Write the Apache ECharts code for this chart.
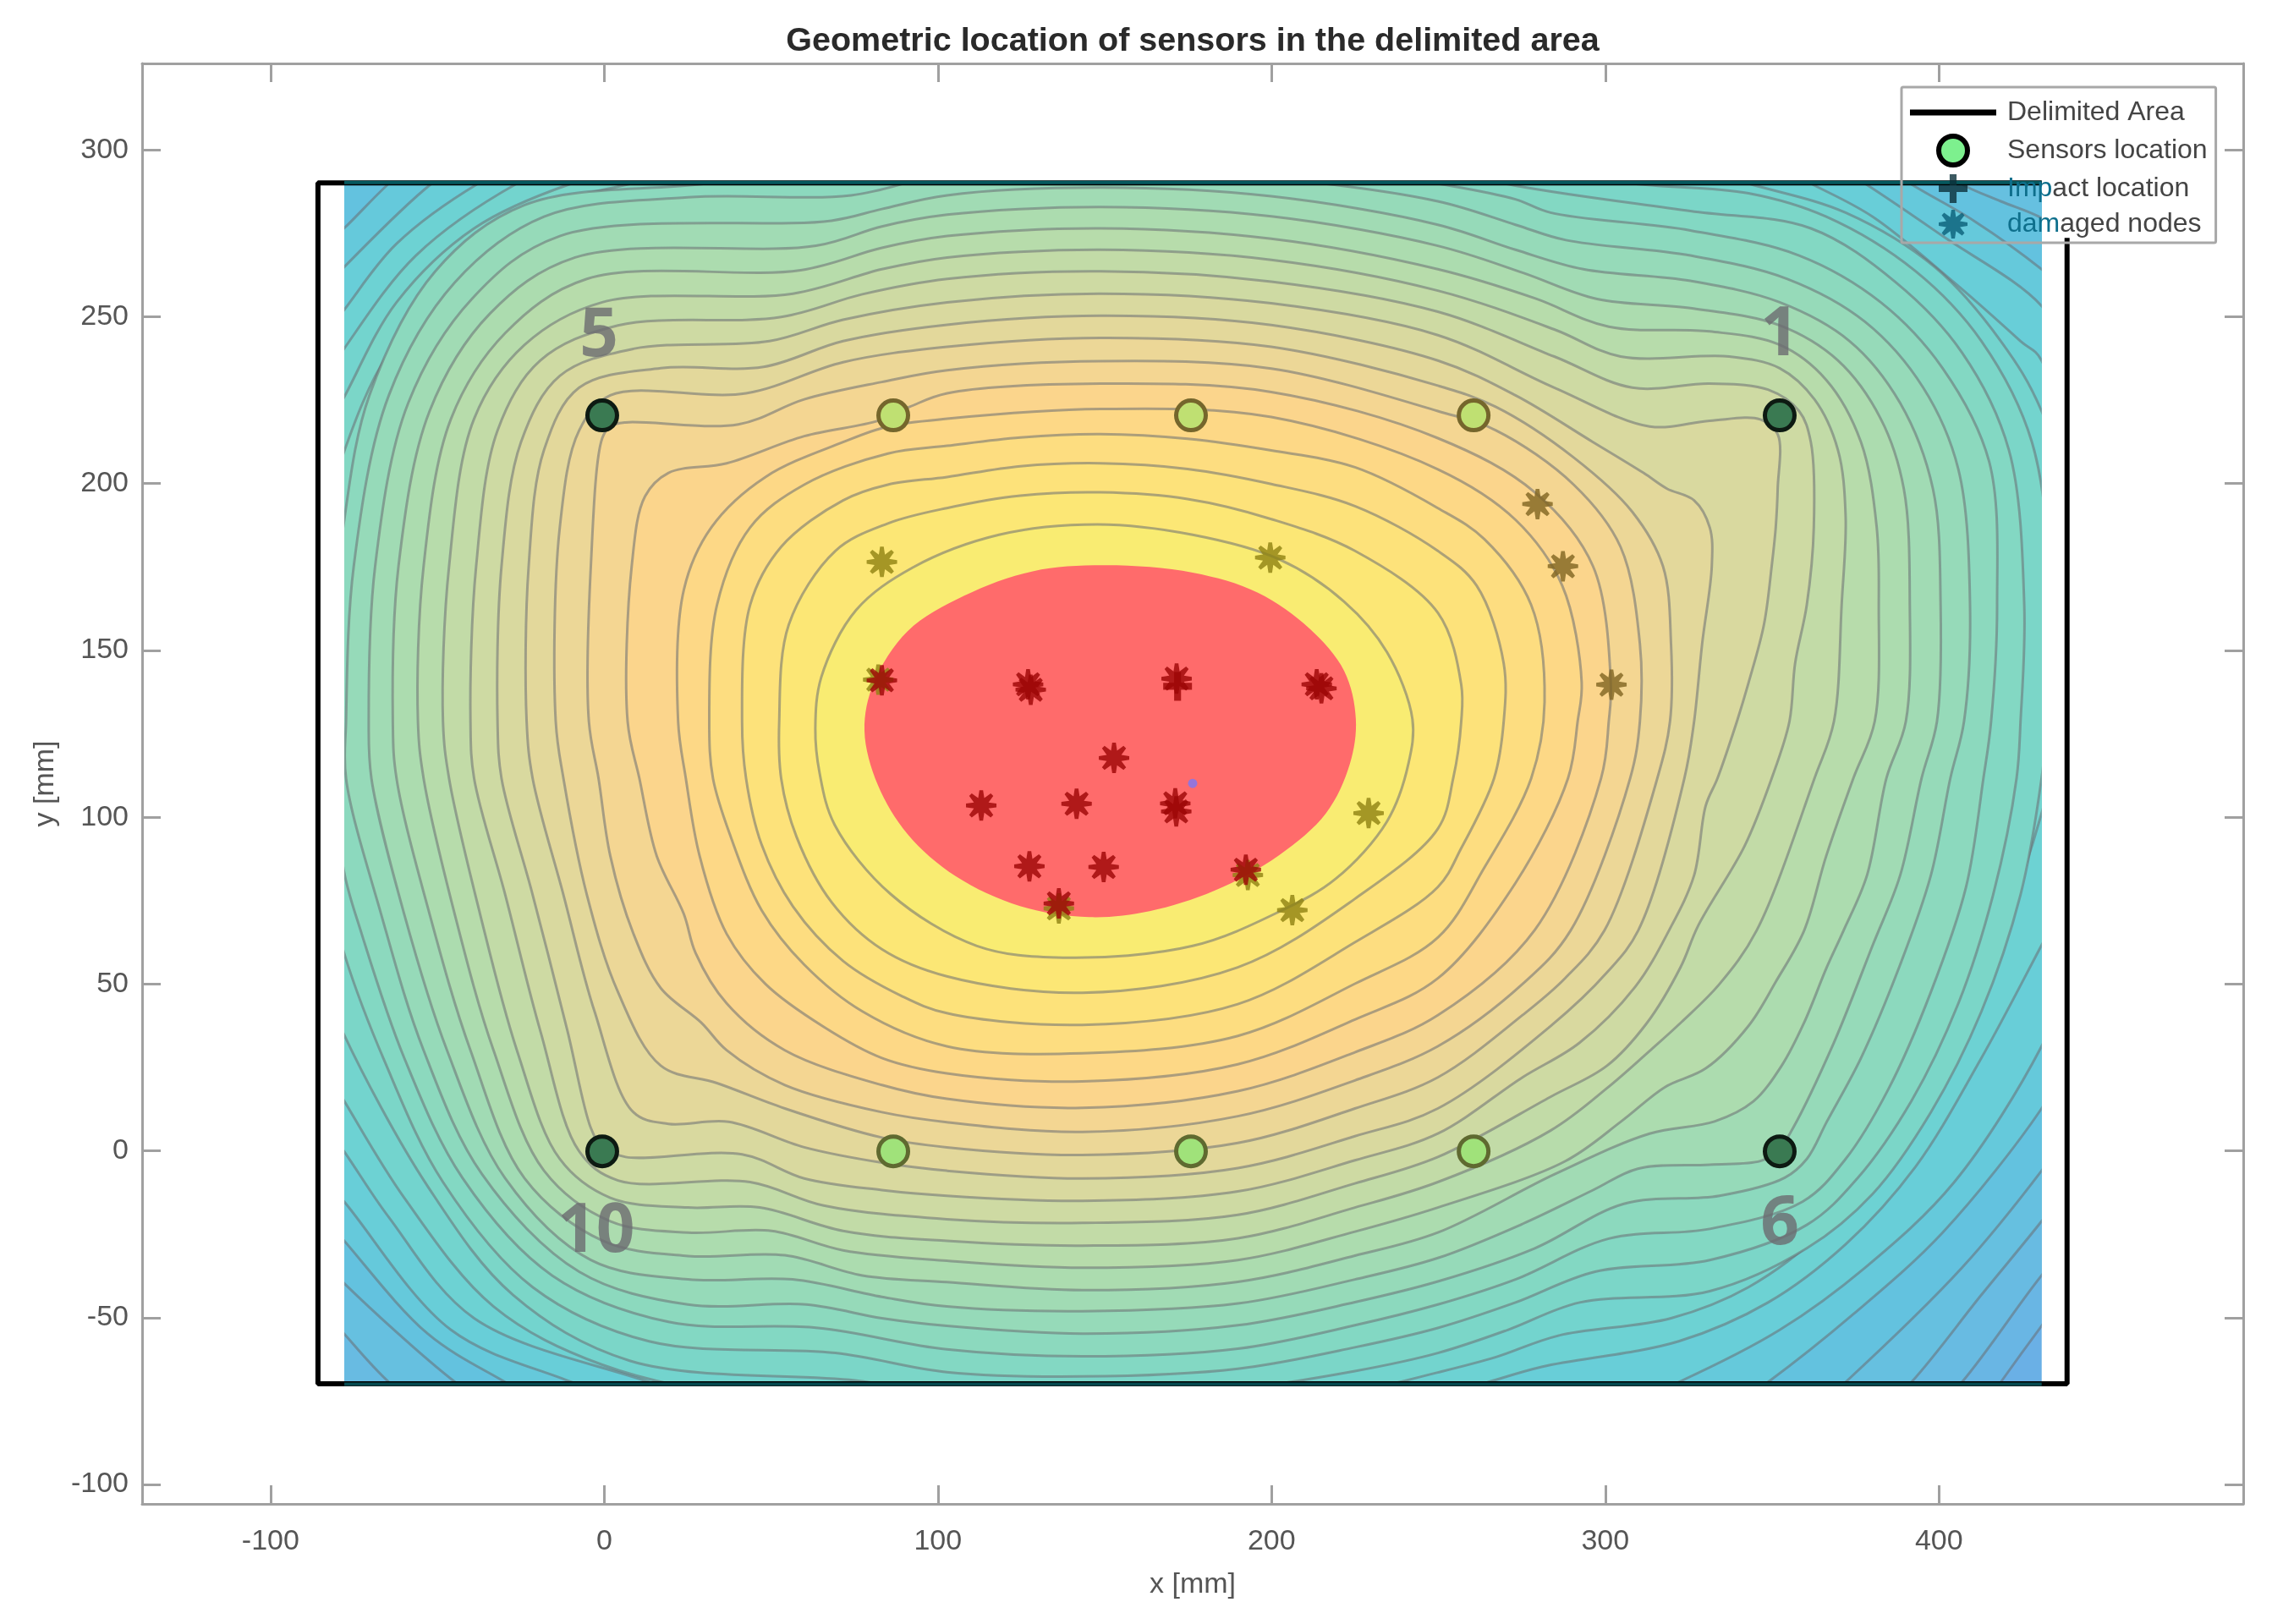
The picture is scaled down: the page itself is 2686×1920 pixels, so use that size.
<!DOCTYPE html>
<html><head><meta charset="utf-8">
<style>html,body{margin:0;padding:0;background:#fff}#c{width:2686px;height:1920px}</style>
<script src="https://cdn.jsdelivr.net/npm/echarts@6/dist/echarts.min.js"></script>
</head><body><div id="c"></div>
<script>
const xTicks=[-100,0,100,200,300,400];
const yTicks=[-100,-50,0,50,100,150,200,250,300];
const xRange=[-138.5,491.2], yRange=[-105.8,325.9];
const fieldX=[-77.9,430.8], fieldY=[-69.8,290.6];

const delimited=[[430.8,290.1],[-85.8,290.1],[-85.8,-69.8],[438.4,-69.8],[438.4,273.6]];
const delimitedTint=[[-77.9,290.2],[430.8,290.2]];
const delimitedTintB=[[-77.9,-69.9],[430.8,-69.9]];
const sensorsCorner=[[0,220],[352,220],[0,0],[352,0]];
const sensorsTop=[[87,220],[176,220],[260.5,220]];
const sensorsBottom=[[87,0],[176,0],[260.5,0]];
const impact=[[172,139]];
const blueDot=[[176.5,110]];
const damagedRed=[[83.6,140.8],[127.3,139.6],[128.1,138],[171.7,141.3],[213.6,139.6],[215,138.4],[153,117.6],[113.3,103.4],[141.8,103.9],[171.3,104],[171.6,101.6],[127.7,85.2],[149.9,85],[192.4,84.2],[136.5,74.1]];
const damagedOlive=[[82.5,141],[193,82.6],[136.5,72.6],[83.6,176.2],[199.7,177.5],[229.1,101.1],[206.3,72.1]];
const damagedBrown=[[279.6,193.5],[287.2,174.9],[301.7,139.5]];
const sensorIds=[[-1,243.6,'5'],[352,243.7,'1'],[-1.8,-24.4,'10'],[352,-22,'6']];

const L0=[[-100,330],[460,330],[460,-110],[-100,-110]];
const L28=[[445,-33],[430.3,-52.2],[418.1,-69],[400,-95],[150,-120],[-115,-115],[-115,325],[480,325],[480,100]];
const L27=[[445,-20],[430.3,-37.1],[406.5,-69],[385,-92],[150,-115],[-110,-110],[-110,320],[470,320],[470,100]];
const L26=[[440,-8],[430.3,-20.9],[412.3,-42.9],[391.4,-69],[370,-90],[150,-110],[-40,-88],[-63.8,-69],[-77.2,-54.5],[-88,-42],[-105,100],[-100,300],[150,325],[440,300],[460,130]];
const L25=[[385,303],[406,289.3],[418.1,284],[430.3,279],[440,272],[455,140],[440,8],[430.3,-5.8],[406.5,-34.8],[371.7,-69],[350,-88],[150,-105],[-22,-84],[-44,-69],[-77.2,-39.4],[-88,-28],[-100,120],[-90,300],[150,320]];
const L24=[[-86,268],[-77.2,275.9],[-63.8,289.3],[-45,305],[150,315],[370,303],[391,289.3],[410,278.2],[430.3,263.7],[440,255],[452,140],[440,30],[430.3,12.8],[400.7,-24.3],[374,-48.7],[348.5,-69],[325,-85],[150,-100],[-5,-82],[-29,-69],[-52.2,-54.5],[-77.2,-26.7],[-88,-14],[-98,120]];
const L23=[[-86,255],[-77.2,264.3],[-51,289.3],[-30,303],[150,310],[355,303],[377.5,289.3],[400.7,273.6],[430.3,252.7],[440,235],[450,140],[440,55],[430.3,31.4],[404.2,-9.2],[377.5,-34.8],[352,-53.4],[321.8,-69],[300,-78],[150,-95],[20,-80],[-9.2,-69],[-45.2,-53.4],[-77.2,-15],[-88,-3],[-95,120]];
const L22=[[-86,240],[-77.2,251.5],[-61.5,271.3],[-37.1,289.3],[-15,300],[150,305],[340,300],[361.3,289.3],[379.8,279.4],[404.2,259.7],[424,242.2],[430.3,236.4],[445,150],[438,76],[430.3,61.6],[412.3,27.9],[392.6,-4.6],[371.7,-27.8],[348.5,-45.2],[321.8,-56.8],[281.1,-64.4],[264.9,-69],[245,-75],[150,-85],[40,-78],[14,-69],[-38.3,-49.9],[-63.8,-19.7],[-77.2,0],[-86,12],[-90,120]];
const L21=[[-85,228],[-77.2,239.9],[-55.7,267.8],[-25.5,289.3],[-5,298],[40,302],[149,318],[280,310],[320,296],[342.7,289.3],[371.7,280.6],[398.4,264.3],[418.1,242.2],[430.3,221.3],[445,170],[435,120],[430.3,101],[420.5,70.9],[404.2,32.5],[386.8,1.2],[365.9,-23.2],[342.7,-40.6],[319.5,-49.9],[285.8,-55.1],[267.2,-61.5],[249.8,-66.1],[225,-71.7],[143.5,-80],[48.8,-74.3],[0,-63.8],[-32.5,-46.4],[-59.2,-13.9],[-77.2,15.1],[-85,28],[-85,130]];
const L20=[[-83,215],[-77.2,225.4],[-61.5,253.8],[-38.3,275.9],[-9.2,289.3],[10,294],[50,300],[149,312],[250,305],[285,293],[307.9,289.3],[342.7,286.4],[365.9,279.4],[392.6,263.1],[412.3,242.2],[427.4,212],[433.2,163.3],[432,128.5],[430.3,111.5],[424,76.7],[412.3,41.8],[397.2,11.7],[379.8,-12.7],[360.1,-29],[331.1,-41.8],[292.2,-45.2],[270.7,-53.4],[249.8,-60.3],[225,-65.7],[190,-71],[143.5,-73.5],[103,-72.5],[75.5,-68.5],[8.2,-62.6],[-26.7,-42.9],[-52.2,-10.4],[-77.2,34.9],[-83,50],[-85,130]];
const L19=[[-81,195],[-77.2,209.1],[-63.8,238.8],[-30.1,277.1],[8.8,289.3],[30,293],[60,298],[149,306],[220,300],[273,288.7],[325.3,281.1],[361.3,275.9],[386.8,259.7],[406.5,238.8],[420.5,209.7],[425.1,163.3],[424,128.5],[422.8,111.5],[415.8,76.7],[405.4,44.2],[391.4,15.1],[375.2,-8.1],[360.1,-22],[331.1,-32.5],[296.8,-36],[273,-45.2],[249.8,-52.8],[225,-58.6],[190,-65],[143.5,-67.3],[103,-66],[69.7,-60.3],[14,-56.8],[-20.8,-40.6],[-47.6,-9.2],[-65,26.8],[-77.2,59.3],[-81,75],[-83,130]];
const L18=[[-80,160],[-77.2,188.3],[-69.6,226],[-49.9,263.1],[-23.2,282.9],[31.4,289.3],[103,298],[149,300],[200,297],[249.8,289.3],[273,284.6],[283.5,280.6],[325.3,275.3],[357.8,267.8],[382.2,253.8],[400.7,234.1],[414.6,206.2],[417,163.3],[415.2,128.5],[412.9,111.5],[407.7,79],[397.2,47.6],[384.5,18.6],[371.7,-2.3],[358.9,-15],[331.1,-23.2],[300.9,-26.1],[273,-38.3],[249.8,-45.8],[225,-52],[190,-59],[143.5,-61.3],[103,-59.2],[64.5,-52.8],[19.8,-51],[-15,-37.1],[-41.7,-8.1],[-59.2,27.9],[-71.9,65],[-77.2,83.6],[-80,110]];
const L17=[[-76.6,128.5],[-74.3,174.9],[-63.8,226],[-44.1,259.7],[-17.4,279.4],[25.6,285.2],[74.4,285.8],[103.1,292.2],[149,294],[200,291],[249.8,284],[273,277],[288.1,272.4],[325.3,267.8],[354.3,260.8],[377.5,248],[394.9,228.3],[405.4,203.9],[408.9,163.3],[407.1,128.5],[403,111.5],[397.2,82.5],[388,55.8],[376.3,27.9],[366.1,8.9],[360.1,-2.3],[353.5,-7.9],[334,-13.3],[305.4,-15.7],[278.8,-29],[249.8,-38.9],[225,-45.1],[190,-52],[143.5,-54.5],[103,-52.2],[83.6,-49.9],[61,-45.8],[25.6,-45.8],[-6.9,-36],[-35.9,-6.9],[-53.4,30.2],[-66.1,70.9],[-76.6,111.5]];
const L16=[[-69.8,128.5],[-67.9,174.9],[-58,223.7],[-38.8,255],[-12.7,273.6],[68.5,278.2],[83.6,281.7],[103.1,285.8],[149,288.1],[200,285.5],[249.8,277],[273,269.5],[293.3,263.7],[325.3,260.2],[352,253.8],[372.9,242.2],[388,223.7],[397.8,198.1],[400.1,163.3],[399,128.5],[394.4,111.5],[388,82.5],[379.8,61.6],[368.2,32.5],[356,7],[351.4,0],[346.2,-2.9],[331.1,-4],[309.6,-5.2],[296.2,-11.6],[275.1,-21.7],[249.8,-31.9],[225,-38.3],[190,-45.5],[143.5,-47.8],[103,-46.4],[83.6,-43.5],[56.9,-38.3],[25.6,-38.3],[-3.4,-32.5],[-29,-8.1],[-46.4,30.2],[-59.2,70.9],[-69,111.5]];
const L15=[[-62.6,128.5],[-60.9,174.9],[-51.6,221.3],[-33.6,250.4],[-8.1,267.2],[63.9,270.7],[83.6,276.5],[103.1,280],[149,282.3],[200,279.5],[249.8,270.7],[275.3,262.6],[297.4,254.8],[325.3,252.1],[352,246.9],[369.4,236.4],[382.2,219],[389.1,198.1],[390.9,163.3],[389.7,128.5],[383.9,111.5],[378.1,82.5],[371.1,66],[366.1,55.1],[359.3,38.5],[352.7,25.8],[344.1,14.9],[332.5,8.9],[313.1,5.3],[284.6,-6.9],[249.8,-24.3],[225,-31.2],[190,-39],[143.5,-41.5],[103,-39.1],[77.8,-37.1],[54.6,-31.1],[25.6,-31.3],[0,-26.7],[-23.2,-8.1],[-39.4,30.2],[-51.6,70.9],[-61.5,111.5]];
const L14=[[-55.1,128.5],[-53.4,174.9],[-45.2,219],[-29,244.6],[-4.6,260.8],[59.3,263.4],[83.6,270.1],[103.1,273.6],[149,275.9],[200,272.8],[249.8,263.7],[278.8,255],[300.9,246.5],[331.1,245.1],[352,241.1],[365.9,230.6],[376.3,212],[381,186.5],[381.6,163.3],[380.4,128.5],[374,111.5],[365.9,88.3],[359.3,66],[350.9,50.8],[342.6,37.4],[329.9,24.8],[317.7,19.2],[304.6,8.9],[287.8,-3],[249.8,-16.8],[225,-24],[190,-32.5],[143.5,-34.8],[103,-32.7],[72,-29.6],[50.6,-23.8],[25.6,-24.3],[2.4,-20.9],[-17.4,-5.8],[-32.5,30.2],[-44.1,70.9],[-53.4,111.5]];
const L13=[[-47.6,128.5],[-45.8,174.9],[-38.3,219],[-23.2,241.1],[0,253.8],[57,256.4],[83.6,263.7],[103.1,267.2],[149,269.5],[200,266.5],[249.8,257.3],[284.6,245.7],[304.4,237.6],[336.9,237.6],[352,234.1],[362.4,224.8],[369.4,209.7],[371.7,190],[370.5,163.3],[368.2,128.5],[362.4,111.5],[345.1,66],[334,50],[322.6,38.6],[313,29.9],[300.4,18.9],[283.5,6.2],[249.8,-9.2],[225,-16.8],[190,-26],[143.5,-28.2],[103,-26.8],[72,-23.8],[47.1,-16.8],[25.6,-16.8],[2.4,-13.9],[-12.7,-2.3],[-25.5,30.2],[-36.5,70.9],[-45.8,111.5]];
const L12=[[-39.4,128.5],[-37.7,174.9],[-31.3,215.5],[-18.5,236.4],[4.7,246.9],[53.5,249.4],[77.8,256.2],[103.1,260.8],[149,263.1],[200,260],[249.8,251],[284.6,237.6],[307.9,228.3],[331.1,229.5],[348.5,227.7],[357.8,221.3],[361.3,212],[362.2,186.5],[360.1,163.3],[356.6,145.9],[354.9,128.5],[349.6,111.5],[341.5,91.3],[327.6,67.4],[322.4,55.1],[312.1,38.1],[300.4,25.6],[283.5,16.3],[249.8,-1.7],[225,-9.6],[190,-19],[143.5,-21.4],[103,-20.3],[66.2,-16.2],[44.2,-9.2],[4.7,-8.7],[-6.9,0],[-18.5,36],[-29,76.7],[-38.3,111.5]];
const L11=[[-31.3,128.5],[-30.1,174.9],[-24.3,212],[-12.7,231.8],[9.3,239.9],[50,242.2],[72,248.6],[103.1,253.8],[149,256.4],[200,253.5],[249.8,244],[284.6,228.3],[313.1,216.7],[331.1,218.4],[346.2,218.8],[351.4,214.4],[351.4,198.1],[350.8,186.5],[349.6,174.9],[347.3,157.5],[342.7,140.1],[339.2,128.5],[333.4,111.5],[329.9,103.4],[326.4,82.5],[318.9,66],[308.8,49.2],[292.1,32.4],[275.1,22.1],[249.8,5.3],[225,-2.7],[190,-12],[143.5,-14.8],[103,-13.3],[83.6,-11.6],[60.4,-8.1],[41.8,-0.9],[7,-1.7],[0,1.2],[-3.4,7],[-10.4,36],[-20.8,76.7],[-30.1,111.5]];
const L10=[[-22.6,128.5],[-22,174.9],[-17.4,209.7],[-6.9,228.3],[17.5,234.1],[48.2,234.5],[72,242.2],[103.1,247.1],[149,249.8],[200,247],[249.8,236.4],[273,226],[296.2,212],[311.3,202.8],[318.3,198.1],[326.4,194.6],[331.1,186.5],[331.7,174.9],[328.8,151.7],[326.4,128.5],[323.5,111.5],[309.7,66],[300.4,53.5],[283.5,37.4],[249.8,12.8],[225,4.5],[190,-5],[143.5,-8.1],[103,-5.8],[83.6,-3.4],[60.4,1.2],[37.8,8.8],[19.8,8.2],[9.3,11.7],[-2.3,41.8],[-11.6,76.7],[-20.8,111.5]];
const L9=[[-13.9,128.5],[-12.7,186.5],[-6.9,215.5],[2.4,226],[43,226.6],[72,235.9],[103.1,240.5],[149,243.2],[200,240.5],[249.8,228.9],[267.2,222.5],[290.4,207.4],[307.9,191.2],[317.1,174.9],[319.5,151.7],[319.2,128.5],[315.4,111.5],[299.6,66],[287.8,51.7],[275.1,40.7],[249.8,22.1],[225,12.8],[190,2.5],[143.5,-1.1],[103,1.2],[83.6,4.1],[54.6,12.8],[34.3,20.4],[17.5,25.6],[4.7,47.6],[-4.6,76.7],[-11.6,111.5]];
const L8=[[-4,128.5],[-3.4,174.9],[0,213.2],[2.4,216.7],[7,217.9],[40.7,217.3],[60.4,224.8],[83.6,230],[103.1,233.5],[149,236.2],[200,234],[249.8,221.3],[267.2,215.5],[290.4,199.3],[304.4,180.7],[310.2,151.7],[310.2,128.5],[307.3,111.5],[289.5,66],[275.1,50],[249.8,31.4],[225,21.2],[190,10.5],[143.5,5.8],[103,8.7],[83.6,11.7],[54.6,19.8],[37.2,30.2],[29.7,38.4],[17.5,48.8],[9.3,65.1],[2.4,88.3],[-1.1,111.5]];
const L7=[[7.6,128.5],[8.8,174.9],[12.8,195.8],[19.8,202.8],[37.2,205.7],[60.4,213.8],[82.5,218.4],[91.8,222.5],[103.1,226.6],[149,229.5],[200,227],[249.8,213.2],[278.8,197],[296.2,174.9],[301.5,140.1],[300.9,128.5],[298.6,111.5],[278.8,66.2],[249.8,40.7],[225,29.6],[190,18],[143.5,13],[103,15.7],[83.6,19.8],[54.6,30.2],[37.2,44.2],[27.9,59.3],[24.4,70.9],[16.3,88.3],[11.1,111.5]];
const L6=[[22.7,128.5],[24.4,167.9],[32.6,186.5],[48.8,201.6],[72,212],[85.4,216.7],[103.1,219],[149,221.9],[200,219.5],[249.8,203.9],[273,188.8],[287,169.1],[292.8,140.1],[291.6,128.5],[288.7,111.5],[273,80.2],[249.8,51.7],[225,39.4],[190,26],[143.5,20.9],[103,23.3],[83.6,27.9],[66.2,37.2],[48.8,50],[37.2,65],[29.1,88.3],[25,111.5]];
const L5=[[103.1,210.9],[125,213.4],[149,214.4],[175,213],[200,209.5],[225,204.5],[249.8,192.3],[263.7,183],[277.7,163.3],[281.7,134.3],[277.7,111.5],[263.7,84.8],[249.8,63.9],[225,50.1],[190,34.5],[143.5,29.3],[103,31.4],[77.8,41.8],[60.4,55.8],[47.7,72],[38.4,94.1],[33.1,111.5],[32,128.5],[34.3,163.3],[44.2,186.5],[60.4,199.3],[85.4,208.6]];
const L4=[[103.1,201.6],[125,204.8],[149,205.7],[175,204],[200,199.5],[225,192.9],[249.8,179.5],[261.4,169.1],[269.5,145.9],[269.5,128.5],[266.6,111.5],[256.8,90.6],[249.8,79],[225,62.5],[190,44],[143.5,37.8],[103,41.3],[89.4,46.5],[72,56.9],[57,73.2],[47.6,91.8],[43,111.5],[41.8,128.5],[44.2,163.3],[53.5,180.7],[72,194.6],[85.4,199.3]];
const L3=[[103,192.3],[125,196],[149,197],[175,195],[200,189],[225,179.5],[249.8,161],[256.8,139.5],[256.8,128.5],[254.4,111.5],[249.8,96.4],[225,75.5],[190,55],[143.5,47.4],[103,52.3],[83.6,60.4],[68.6,74.4],[58.1,94],[53.5,111.5],[52.9,128.5],[55.8,157.5],[69.7,179.5],[85.4,187.7]];
const L2=[[118.6,184.3],[148,187.4],[176.5,184.3],[202.3,177],[221.8,164.3],[234.6,149.2],[242.2,129.2],[241,115.8],[234.6,98.6],[219.2,81.4],[202.3,71.6],[176.5,61.4],[137.8,57.9],[112,61.4],[86.2,76.9],[69.5,97.6],[65,113],[63.7,126.4],[65.5,141.8],[75.9,161.8],[92.8,174.5]];
const L1=[[128.7,173.4],[150.7,175.2],[176.5,173],[196,167],[211.4,156.3],[221.8,143.6],[225.3,129.2],[223.5,115.8],[216.4,101.1],[202.3,88.5],[183,77.9],[163.6,71.8],[145.6,70],[124.9,73.3],[105.7,82.2],[91.3,94.8],[82.4,109.5],[78.4,125.7],[81.2,140.1],[91.3,155.5],[108.2,166.1]];

const levels=[L0,L28,L27,L26,L25,L24,L23,L22,L21,L20,L19,L18,L17,L16,L15,L14,L13,L12,L11,L10,L9,L8,L7,L6,L5,L4,L3,L2,L1];
const bandColors=['#6ab0e6','#69b6e4','#68bbe2','#66c0e0','#63c2df','#65c9db','#68ced8','#6dd2d3','#73d4ce','#7bd6c8','#83d8c3','#8cd9be','#96dab9','#a1dbb4','#acdcaf','#b7dcab','#c2dba7','#cedaa3','#d9d99f','#e3d89b','#ecd797','#f4d692','#fbd58c','#fdd886','#fddd80','#fde27a','#fce775','#f9ec72','#ff6b6b'];

const starPath='path://M44 0 L56 0 L60 26 L81.2 10.4 L89.6 18.8 L74 40 L100 44 L100 56 L74 60 L89.6 81.2 L81.2 89.6 L60 74 L56 100 L44 100 L40 74 L18.8 89.6 L10.4 81.2 L26 60 L0 56 L0 44 L26 40 L10.4 18.8 L18.8 10.4 L40 26 Z';
const plusPath='path://M38 0 H62 V38 H100 V62 H62 V100 H38 V62 H0 V38 H38 Z';
const barPath='path://M0 0 L0.01 0 L0.01 0.01 Z M0 40 H100 V60 H0 Z M0 100 L0.01 100 L0.01 99.99 Z';
const font='"Liberation Sans",Arial,sans-serif';

// the reference's marks were read on a slightly finer scale than its printed ticks
function cal(p){var q=p.slice();q[0]=p[0]*1.0025-0.6;q[1]=p[1]*1.0025-0.13;return q;}

// centripetal Catmull-Rom through the read vertices, as cubic segments
function closedSpline(pts){
  var n=pts.length,s='M'+pts[0][0].toFixed(1)+' '+pts[0][1].toFixed(1);
  function d(a,b){return Math.pow(Math.hypot(a[0]-b[0],a[1]-b[1]),0.5)||1e-3;}
  for(var i=0;i<n;i++){
    var p0=pts[(i-1+n)%n],p1=pts[i],p2=pts[(i+1)%n],p3=pts[(i+2)%n];
    var d1=d(p0,p1),d2=d(p1,p2),d3=d(p2,p3);
    var c1=[0,0],c2=[0,0];
    for(var k=0;k<2;k++){
      c1[k]=(d1*d1*p2[k]-d2*d2*p0[k]+(2*d1*d1+3*d1*d2+d2*d2)*p1[k])/(3*d1*(d1+d2));
      c2[k]=(d3*d3*p1[k]-d2*d2*p3[k]+(2*d3*d3+3*d3*d2+d2*d2)*p2[k])/(3*d3*(d3+d2));
    }
    s+='C'+c1[0].toFixed(1)+' '+c1[1].toFixed(1)+' '+c2[0].toFixed(1)+' '+c2[1].toFixed(1)+' '+p2[0].toFixed(1)+' '+p2[1].toFixed(1);
  }
  return s+'Z';
}

const chart=echarts.init(document.getElementById('c'),null,{renderer:'canvas'});
const axisBase={axisLine:{show:true,onZero:false,lineStyle:{color:'#a0a0a0',width:3}},splitLine:{show:false}};
function tickOpt(vals){return {show:true,inside:true,length:22,customValues:vals,lineStyle:{color:'#a0a0a0',width:3}};}
const labelStyle={color:'#555',fontSize:34,fontFamily:font};
const rich={t:{color:'#0e6f8c',fontSize:32,fontFamily:font},n:{color:'#444',fontSize:32,fontFamily:font}};

chart.setOption({
  animation:false,
  backgroundColor:'#fff',
  title:{text:'Geometric location of sensors in the delimited area',left:1405,top:24,textAlign:'center',
    textStyle:{fontSize:39.5,fontWeight:'bold',color:'#2a2a2a',fontFamily:font}},
  grid:{left:168,top:75,width:2484,height:1703,containLabel:false},
  xAxis:[
    Object.assign({},axisBase,{type:'value',min:xRange[0],max:xRange[1],position:'bottom',name:'x [mm]',nameLocation:'middle',nameGap:79,
      nameTextStyle:{color:'#555',fontSize:34,fontFamily:font},axisTick:tickOpt(xTicks),
      axisLabel:Object.assign({},labelStyle,{show:true,margin:28,customValues:xTicks})}),
    Object.assign({},axisBase,{type:'value',min:xRange[0],max:xRange[1],position:'top',axisTick:tickOpt(xTicks),axisLabel:{show:false}})
  ],
  yAxis:[
    Object.assign({},axisBase,{type:'value',min:yRange[0],max:yRange[1],position:'left',name:'y [mm]',nameLocation:'middle',nameGap:97,
      nameTextStyle:{color:'#555',fontSize:34,fontFamily:font},axisTick:tickOpt(yTicks),
      axisLabel:Object.assign({},labelStyle,{show:true,margin:16,customValues:yTicks})}),
    Object.assign({},axisBase,{type:'value',min:yRange[0],max:yRange[1],position:'right',axisTick:tickOpt(yTicks),axisLabel:{show:false}})
  ],
  legend:{orient:'vertical',left:2248,top:103,z:20,
    padding:[13,10,5,10],itemWidth:102,itemHeight:34,itemGap:8,
    borderColor:'#a8a8a8',borderWidth:3,borderRadius:2,
    data:[
      {name:'Delimited Area',icon:barPath,symbolKeepAspect:false,itemStyle:{color:'#000'}},
      {name:'Sensors location',itemStyle:{color:'#7df08e',borderColor:'#000',borderWidth:6}},
      {name:'Impact location',icon:plusPath},
      {name:'damaged nodes',icon:starPath}
    ],
    textStyle:{fontSize:32,color:'#444',fontFamily:font,padding:[0,0,0,8],rich:rich},
    formatter:function(n){
      if(n==='Impact location')return '{t|Imp}{n|act location}';
      if(n==='damaged nodes')return '{t|dam}{n|aged nodes}';
      return '{n|'+n+'}';
    },
    selectedMode:false},
  series:[
    {type:'custom',name:'field',coordinateSystem:'cartesian2d',z:1,clip:false,silent:true,
      data:levels.map(function(l,i){return [i,0];}),
      encode:{x:0,y:1},
      renderItem:function(params,api){
        var i=params.dataIndex;
        var a=api.coord([fieldX[0],fieldY[1]]),b=api.coord([fieldX[1],fieldY[0]]);
        var pts=levels[i].map(function(p){return api.coord(cal(p));});
        return {type:'group',
          clipPath:{type:'rect',shape:{x:a[0],y:a[1],width:b[0]-a[0],height:b[1]-a[1]}},
          children:[{type:'path',shape:{pathData:closedSpline(pts)},
            style:{fill:bandColors[i],stroke:(i===0||i===levels.length-1)?null:'rgba(105,110,115,0.55)',lineWidth:3}}]};
      }},
    {type:'line',name:'Delimited Area',data:delimited,z:3,symbol:'none',lineStyle:{color:'#000',width:6},itemStyle:{color:'#000'},silent:true},
    {type:'line',name:'tintTop',data:delimitedTint,z:4,symbol:'none',lineStyle:{color:'#06595f',width:4},silent:true},
    {type:'line',name:'tintBottom',data:delimitedTintB,z:4,symbol:'none',lineStyle:{color:'#054a50',width:4},silent:true},
    {type:'scatter',name:'Sensors location',z:5,symbol:'circle',symbolSize:35,silent:true,
      itemStyle:{color:'#7df08e',borderColor:'#000',borderWidth:5,opacity:1},
      data:[].concat(
        sensorsCorner.map(function(v){return {value:cal(v),itemStyle:{color:'#3a7a52',borderColor:'#0d1a12'}};}),
        sensorsTop.map(function(v){return {value:cal(v),itemStyle:{color:'#bfe072',borderColor:'#75662c'}};}),
        sensorsBottom.map(function(v){return {value:cal(v),itemStyle:{color:'#a0e27a',borderColor:'#5f6a30'}};})
      )},
    {type:'scatter',name:'damaged nodes',z:6,symbol:starPath,symbolSize:36,silent:true,itemStyle:{color:'#0a5f78'},
      data:[].concat(
        damagedOlive.map(function(v){return {value:cal(v),itemStyle:{color:'#8f8212'}};}),
        damagedBrown.map(function(v){return {value:cal(v),itemStyle:{color:'#7f6420'}};}),
        damagedRed.map(function(v){return {value:cal(v),itemStyle:{color:'#9c0505'}};})
      )},
    {type:'scatter',name:'Impact location',z:7,symbol:plusPath,symbolSize:34,silent:true,itemStyle:{color:'#0b2f3a'},
      data:impact.map(function(v){return {value:cal(v),itemStyle:{color:'#9c0505'}};})},
    {type:'scatter',name:'dot',z:7,symbol:'circle',symbolSize:11,silent:true,itemStyle:{color:'#7a78f5'},data:blueDot.map(cal)},
    {type:'scatter',name:'ids',z:8,symbolSize:1,silent:true,itemStyle:{color:'rgba(0,0,0,0)'},data:sensorIds.map(cal),
      label:{show:true,position:'inside',formatter:function(p){return p.value[2];},fontSize:80,fontWeight:'bold',fontFamily:'"Open Sans","Noto Sans",sans-serif',color:'#6b6b70'}}
  ]
});
</script></body></html>
